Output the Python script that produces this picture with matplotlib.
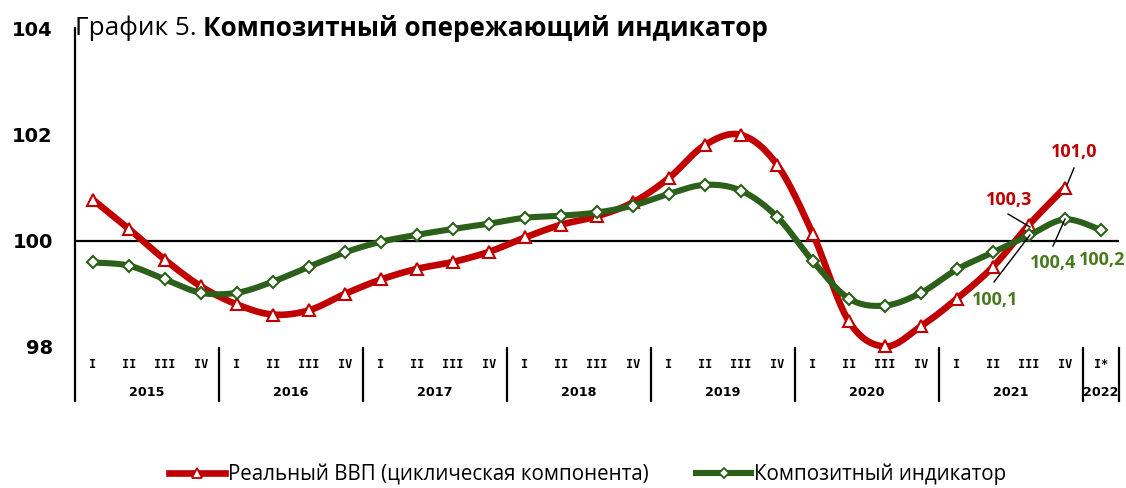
import numpy as np
import matplotlib
matplotlib.use("Agg")
import matplotlib.pyplot as plt
from matplotlib.lines import Line2D

# ---------------- data ----------------
quarters = ["I", "II", "III", "IV"] * 7 + ["I*"]
years = ["2015", "2016", "2017", "2018", "2019", "2020", "2021", "2022"]
gdp = [100.77, 100.22, 99.64, 99.14,
       98.80, 98.61, 98.69, 99.00,
       99.27, 99.47, 99.60, 99.79,
       100.06, 100.30, 100.46, 100.72,
       101.18, 101.80, 101.99, 101.43,
       100.12, 98.48, 98.01, 98.39,
       98.91, 99.51, 100.30, 101.00]
composite = [99.59, 99.53, 99.27, 99.02,
             99.02, 99.23, 99.51, 99.78,
             99.98, 100.11, 100.22, 100.32,
             100.43, 100.47, 100.53, 100.66,
             100.88, 101.05, 100.94, 100.45,
             99.61, 98.91, 98.78, 99.02,
             99.46, 99.78, 100.10, 100.40, 100.20]
yticks = [98, 100, 102, 104]
gdp_label = "Реальный ВВП (циклическая компонента)"
comp_label = "Композитный индикатор"

RED = "#C00000"
GREEN = "#2B5F1A"
GREEN_TXT = "#4A7A1F"

W, H = 1126, 488
fig = plt.figure(figsize=(W / 100, H / 100), dpi=100)

# axes geometry in pixels
ax_l, ax_r, ax_t, ax_b = 75, 1119, 28, 401
px_per_unit = (347 - 28) / 6.0
ymin = 98 - (ax_b - 347) / px_per_unit
ax = fig.add_axes([ax_l / W, 1 - ax_b / H, (ax_r - ax_l) / W, (ax_b - ax_t) / H])
n = len(quarters)
ax.set_xlim(-0.5, n - 0.5)
ax.set_ylim(ymin, 104)


def px2data(px, py):
    return (px - ax_l) / ((ax_r - ax_l) / n) - 0.5, 104 - (py - ax_t) / px_per_unit


def smooth(y, steps=30):
    y = np.asarray(y, float)
    x = np.arange(len(y), dtype=float)
    P = np.column_stack([x, y])
    out = []
    for i in range(len(P) - 1):
        p0 = P[i - 1] if i > 0 else P[i]
        p1, p2 = P[i], P[i + 1]
        p3 = P[i + 2] if i + 2 < len(P) else P[i + 1]
        c1 = p1 + (p2 - p0) / 6.0
        c2 = p2 - (p3 - p1) / 6.0
        t = np.linspace(0, 1, steps)[:, None]
        seg = (1 - t) ** 3 * p1 + 3 * (1 - t) ** 2 * t * c1 + 3 * (1 - t) * t ** 2 * c2 + t ** 3 * p2
        out.append(seg if i == 0 else seg[1:])
    s = np.vstack(out)
    return s[:, 0], s[:, 1]


for sp in ["top", "right", "bottom"]:
    ax.spines[sp].set_visible(False)
ax.spines["left"].set_linewidth(1.6)
ax.set_xticks([])
ax.set_yticks(yticks)
ax.set_yticklabels([str(v) for v in yticks], fontsize=14, fontweight="bold", family="DejaVu Sans")
ax.tick_params(axis="y", length=0, pad=16)

ax.axhline(100, color="black", lw=1.6, zorder=1)

xg, yg = smooth(gdp)
ax.plot(xg, yg, color=RED, lw=4.8, solid_capstyle="round", zorder=3)
ax.plot(np.arange(len(gdp)), gdp, ls="none", marker="^", ms=9, mfc="white", mec=RED, mew=1.5, zorder=4)

xc, yc = smooth(composite)
ax.plot(xc, yc, color=GREEN, lw=4.4, solid_capstyle="round", zorder=5)
ax.plot(np.arange(len(composite)), composite, ls="none", marker="D", ms=6.5, mfc="white", mec=GREEN, mew=1.5, zorder=6)

# category labels
yq = px2data(0, 365)[1]
yy = px2data(0, 392)[1]
for i, q in enumerate(quarters):
    ax.text(i, yq, q, ha="center", va="center", fontsize=8.6, fontweight="bold", family="DejaVu Sans Mono")
for k, yr in enumerate(years):
    start = 4 * k
    end = min(4 * k + 3, n - 1)
    ax.text((start + end) / 2, yy, yr, ha="center", va="center", fontsize=9.2, fontweight="bold", family="DejaVu Sans")
ysep = px2data(0, 348)[1]
for b in list(np.arange(3.5, n - 1, 4)) + [n - 0.5]:
    ax.plot([b, b], [ysep, ymin], color="black", lw=1.6, clip_on=False, zorder=2)


def fmt(v):
    return f"{v:.1f}".replace(".", ",")


def label(val, color, tpos, lpos=None):
    tx, ty = px2data(*tpos)
    ax.text(tx, ty, fmt(val), ha="center", va="center", color=color, fontsize=13,
            fontweight="bold", family="Open Sans", zorder=7)
    if lpos:
        a = px2data(*lpos[0])
        b = px2data(*lpos[1])
        ax.plot([a[0], b[0]], [a[1], b[1]], color="black", lw=1.0, zorder=7)


label(gdp[26], RED, (1009, 200), ((1008, 214), (1030, 227)))
label(gdp[27], RED, (1074, 152), ((1074, 168), (1067, 185)))
label(composite[26], GREEN_TXT, (995, 300), ((994, 282), (1030, 235)))
label(composite[27], GREEN_TXT, (1053, 263), ((1053, 246), (1065, 219)))
label(composite[28], GREEN_TXT, (1102, 260))

# title
fig.canvas.draw()
r = fig.canvas.get_renderer()
t1 = fig.text(75 / W, 1 - 28 / H, "График 5. ", fontsize=18.8, family="Open Sans", va="center", ha="left")
bb = t1.get_window_extent(renderer=r)
fig.text(bb.x1 / W, 1 - 28 / H, "Композитный опережающий индикатор", fontsize=18.8,
         fontweight="bold", family="Open Sans", va="center", ha="left")

# legend
h1 = Line2D([], [], color=RED, lw=4.8, marker="^", ms=7, mfc="white", mec=RED, mew=1.3)
h2 = Line2D([], [], color=GREEN, lw=4.4, marker="D", ms=5.5, mfc="white", mec=GREEN, mew=1.3)
fig.legend([h1, h2], [gdp_label, comp_label], loc="center", bbox_to_anchor=(588 / W, 1 - 474 / H),
           ncol=2, frameon=False, prop={"family": "Open Sans", "size": 14.8},
           handlelength=2.7, handletextpad=0.15, columnspacing=2.3, borderpad=0)

fig.savefig("out.png", dpi=100)
